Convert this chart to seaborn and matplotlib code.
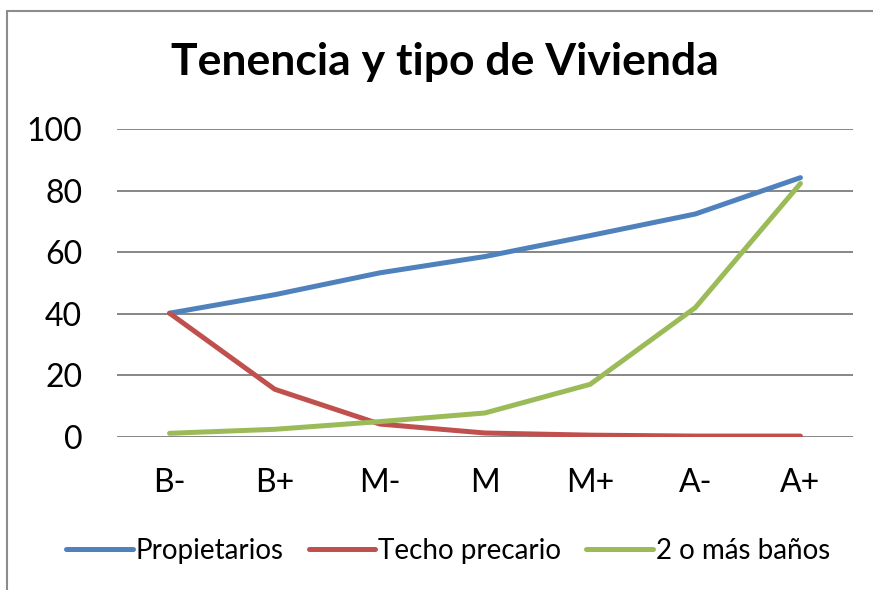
import matplotlib
matplotlib.use("Agg")
import matplotlib.pyplot as plt
import seaborn as sns
import pandas as pd
from matplotlib.lines import Line2D

categories = ["B-", "B+", "M-", "M", "M+", "A-", "A+"]
propietarios = [40.2, 46.2, 53.3, 58.6, 65.4, 72.4, 84.2]
techo_precario = [40.2, 15.5, 4.2, 1.3, 0.6, 0.3, 0.3]
dos_banos = [1.2, 2.5, 5.0, 7.8, 17.1, 42.0, 82.3]
series_names = ["Propietarios", "Techo precario", "2 o más baños"]
colors = ["#4F81BD", "#C0504D", "#9BBB59"]
yticks = [0, 20, 40, 60, 80, 100]

df = pd.DataFrame({
    "cat": categories * 3,
    "x": list(range(len(categories))) * 3,
    "val": propietarios + techo_precario + dos_banos,
    "serie": [series_names[0]] * 7 + [series_names[1]] * 7 + [series_names[2]] * 7,
})

sns.set_theme(style="white")
plt.rcParams["font.family"] = ["Lato", "DejaVu Sans"]
plt.rcParams["text.color"] = "black"
plt.rcParams["xtick.color"] = "black"
plt.rcParams["ytick.color"] = "black"

fig = plt.figure(figsize=(8.73, 5.90), dpi=100)
ax = fig.add_axes([117 / 873, 1 - 437 / 590, (853 - 117) / 873, (437 - 129) / 590])

sns.lineplot(data=df, x="x", y="val", hue="serie", palette=colors,
             hue_order=series_names, linewidth=3.6, ax=ax, legend=False,
             solid_capstyle="round", sort=False)

ax.set_xlim(-0.5, len(categories) - 0.5)
ax.set_ylim(0, 100)
ax.set_yticks(yticks)
ax.set_yticklabels([str(t) for t in yticks], fontsize=23)
ax.set_xticks(range(len(categories)))
ax.set_xticklabels(categories, fontsize=23)
ax.tick_params(axis="y", length=0, pad=25, colors="black")
ax.tick_params(axis="x", length=0, pad=22, colors="black")
ax.set_xlabel("")
ax.set_ylabel("")
for s in ax.spines.values():
    s.set_visible(False)
ax.yaxis.grid(True, color="#868686", linewidth=1.4)
ax.set_axisbelow(True)

fig.text(445 / 873, 1 - 62 / 590, "Tenencia y tipo de Vivienda", ha="center",
         va="center", fontsize=32, fontweight="bold", color="black")

handles = [Line2D([0], [0], color=c, lw=3.6, solid_capstyle="round") for c in colors]
fig.legend(handles, series_names, loc="center", bbox_to_anchor=(448 / 873, 1 - 551 / 590),
           ncol=3, frameon=False, fontsize=20, handlelength=2.4, handletextpad=0.1,
           columnspacing=0.9, labelcolor="black")

fig.add_artist(Line2D([7 / 873, 1.0], [1 - 11 / 590, 1 - 11 / 590], color="#8c8c8c", lw=1.5,
                      transform=fig.transFigure))
fig.add_artist(Line2D([7 / 873, 7 / 873], [1 - 11 / 590, 0], color="#8c8c8c", lw=1.5,
                      transform=fig.transFigure))

fig.savefig("out.png", dpi=100)
